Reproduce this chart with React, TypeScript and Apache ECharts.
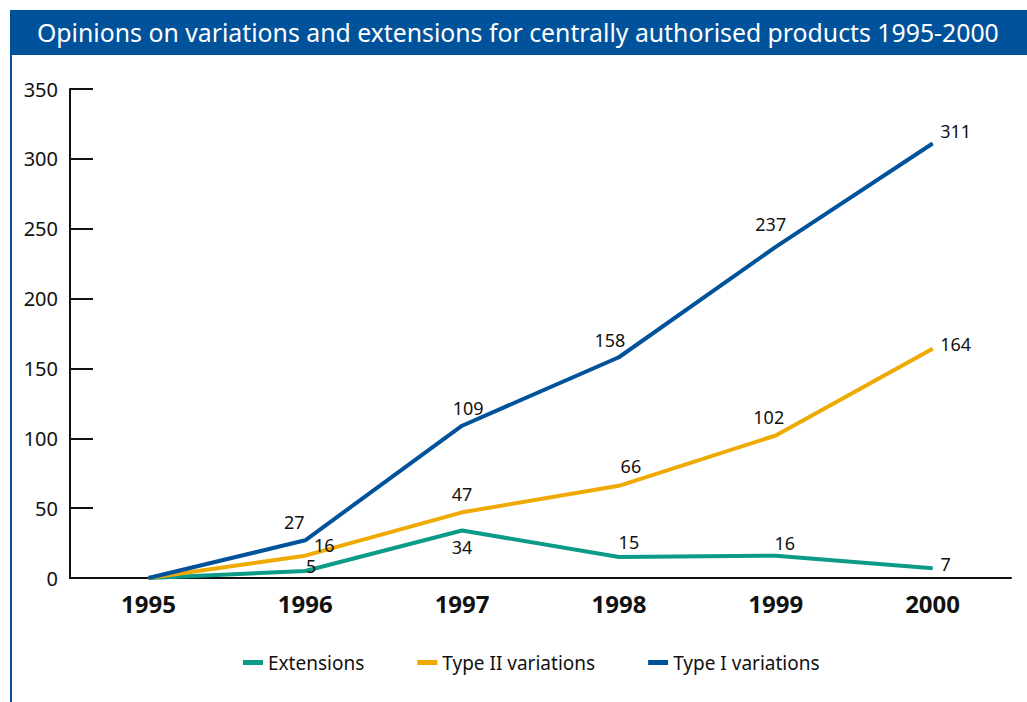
import React, { useEffect, useRef } from "react";
import * as echarts from "echarts";

const TITLE = "Opinions on variations and extensions for centrally authorised products 1995-2000";
const years = ["1995", "1996", "1997", "1998", "1999", "2000"];
const extensions = [0, 5, 34, 15, 16, 7];
const typeII = [0, 16, 47, 66, 102, 164];
const typeI = [0, 27, 109, 158, 237, 311];
const yTicks = [0, 50, 100, 150, 200, 250, 300, 350];

// label offsets (dx, dy) per point, index 0 = no label
const extOffsets: [number, number][] = [[0, 0], [6, -5], [0, 17], [10, -15], [9, -13], [13, -4]];
const t2Offsets: [number, number][] = [[0, 0], [19, -11], [0, -18], [12, -20], [-7, -18], [23, -5]];
const t1Offsets: [number, number][] = [[0, 0], [-11, -18], [6, -18], [-9, -17], [-5, -23], [23, -12]];

const COLORS = { ext: "#0c9a89", t2: "#eeaa00", t1: "#00529b" };
const FONT = "Noto Sans";

function makeData(vals: number[], offs: [number, number][]) {
  return vals.map((v, i) => ({
    value: v,
    label: {
      show: v !== 0,
      position: "inside",
      offset: offs[i],
      align: "center",
      verticalAlign: "middle",
      fontFamily: FONT,
      fontSize: 18,
      color: "#111",
    },
  }));
}

function series(name: string, vals: number[], offs: [number, number][], color: string) {
  return {
    name,
    type: "line",
    data: makeData(vals, offs),
    symbol: "circle",
    symbolSize: 1,
    itemStyle: { color },
    lineStyle: { color, width: 4 },
    emphasis: { disabled: true },
  };
}

export default function App() {
  const ref = useRef<HTMLDivElement>(null);
  useEffect(() => {
    document.body.style.margin = "0";
    const chart = echarts.init(ref.current!, undefined, { renderer: "svg" });
    chart.setOption({
      animation: false,
      backgroundColor: "#fff",
      graphic: [
        { type: "rect", shape: { x: 10, y: 10, width: 1017, height: 45 }, style: { fill: COLORS.t1 } },
        { type: "rect", shape: { x: 10, y: 55, width: 2, height: 647 }, style: { fill: COLORS.t1 } },
        {
          type: "text",
          x: 37,
          y: 32,
          style: {
            text: TITLE,
            fill: "#fff",
            font: `24.8px "${FONT}"`,
            verticalAlign: "middle",
          },
        },
      ],
      legend: {
        left: 238,
        top: 648,
        itemWidth: 20,
        itemHeight: 5,
        itemGap: 53,
        icon: "rect",
        textStyle: { fontFamily: FONT, fontSize: 19, color: "#111" },
        data: ["Extensions", "Type II variations", "Type I variations"],
      },
      grid: { left: 70, right: 16, top: 89, bottom: 124 },
      xAxis: {
        type: "category",
        data: years,
        boundaryGap: true,
        axisLine: { lineStyle: { color: "#111", width: 2 } },
        axisTick: { inside: true, length: 12, lineStyle: { color: "#111", width: 2 } },
        axisLabel: { fontFamily: FONT, fontSize: 24, fontWeight: "bold", color: "#111", margin: 13 },
      },
      yAxis: {
        type: "value",
        min: yTicks[0],
        max: yTicks[yTicks.length - 1],
        interval: 50,
        splitLine: { show: false },
        axisLine: { show: true, lineStyle: { color: "#111", width: 2 } },
        axisTick: { show: true, inside: true, length: 23, lineStyle: { color: "#111", width: 2 } },
        axisLabel: { fontFamily: FONT, fontSize: 20, color: "#111", margin: 12 },
      },
      series: [
        series("Extensions", extensions, extOffsets, COLORS.ext),
        series("Type II variations", typeII, t2Offsets, COLORS.t2),
        series("Type I variations", typeI, t1Offsets, COLORS.t1),
      ],
    });
    return () => chart.dispose();
  }, []);
  return <div ref={ref} style={{ width: 1027, height: 702 }} />;
}
